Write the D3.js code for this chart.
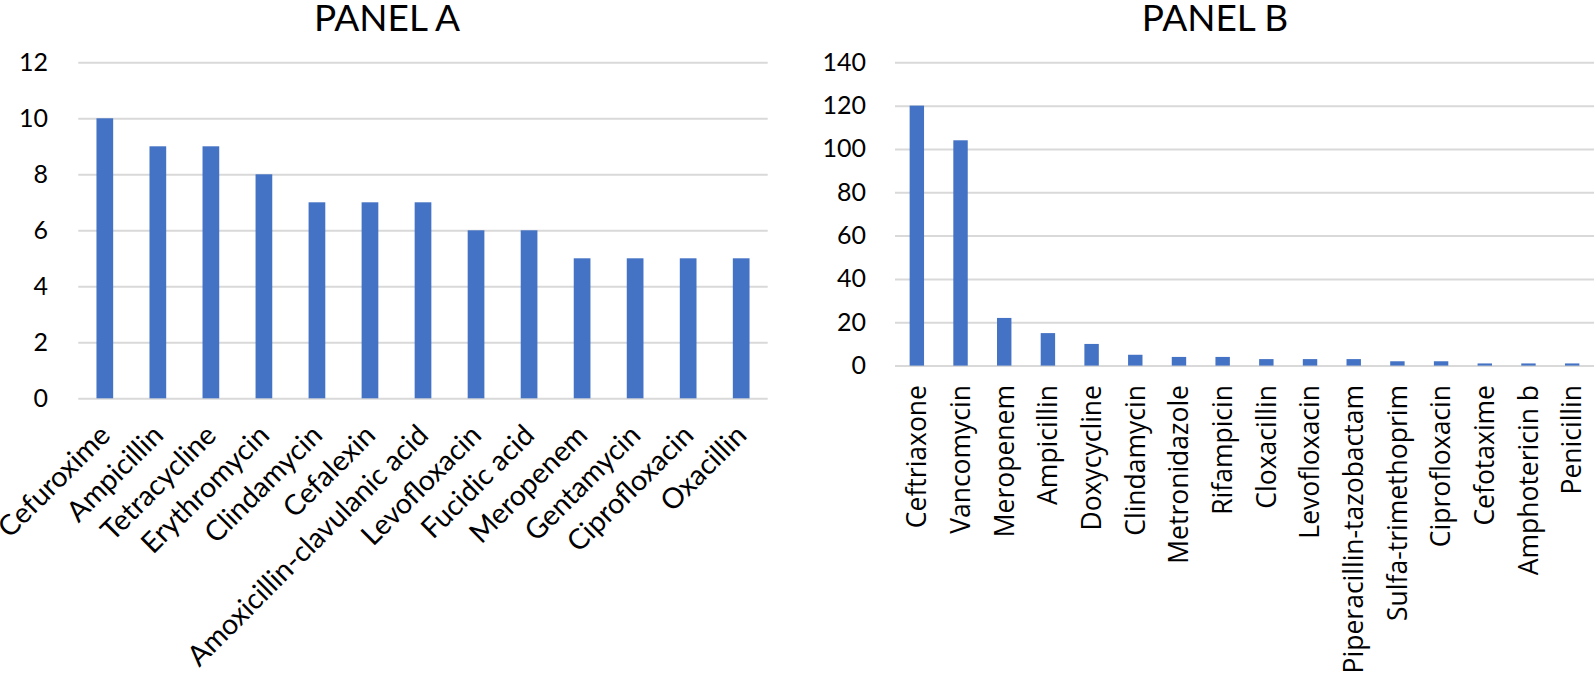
<!DOCTYPE html>
<html>
<head>
<meta charset="utf-8">
<script src="https://cdn.jsdelivr.net/npm/d3@7"></script>
<style>
  html, body { margin: 0; padding: 0; background: #fff; }
  svg { display: block; }
</style>
</head>
<body>
<svg id="chart" width="1594" height="678"></svg>
<script>
// ---- Data ----
const titleA = "PANEL A";
const categoriesA = ["Cefuroxime", "Ampicillin", "Tetracycline", "Erythromycin", "Clindamycin",
  "Cefalexin", "Amoxicillin-clavulanic acid", "Levofloxacin", "Fucidic acid", "Meropenem",
  "Gentamycin", "Ciprofloxacin", "Oxacillin"];
const valuesA = [10, 9, 9, 8, 7, 7, 7, 6, 6, 5, 5, 5, 5];
const ticksA = [0, 2, 4, 6, 8, 10, 12];

const titleB = "PANEL B";
const categoriesB = ["Ceftriaxone", "Vancomycin", "Meropenem", "Ampicillin", "Doxycycline",
  "Clindamycin", "Metronidazole", "Rifampicin", "Cloxacillin", "Levofloxacin",
  "Piperacillin-tazobactam", "Sulfa-trimethoprim", "Ciprofloxacin", "Cefotaxime",
  "Amphotericin b", "Penicillin"];
const valuesB = [120, 104, 22, 15, 10, 5, 4, 4, 3, 3, 3, 2, 2, 1, 1, 1];
const ticksB = [0, 20, 40, 60, 80, 100, 120, 140];

// ---- Style ----
const barColor = "#4472c4";
const gridColor = "#d9d9d9";
const fontA = "Lato, 'Open Sans', sans-serif";
const fontB = "'Open Sans', 'Noto Sans', sans-serif";

const svg = d3.select("#chart");

function panel(cfg) {
  const g = svg.append("g");
  const x = d3.scaleBand().domain(cfg.categories).range(cfg.xRange)
    .paddingInner(cfg.pad).paddingOuter(cfg.pad / 2);
  const y = d3.scaleLinear().domain([0, d3.max(cfg.ticks)]).range(cfg.yRange);

  // gridlines via axis
  const grid = g.append("g").attr("transform", `translate(${cfg.xRange[0]},0)`)
    .call(d3.axisLeft(y).tickValues(cfg.ticks).tickSize(-(cfg.xRange[1] - cfg.xRange[0])).tickFormat(""));
  grid.select(".domain").remove();
  grid.selectAll("line").attr("stroke", gridColor).attr("stroke-width", 2);

  // y tick labels
  const yAx = g.append("g").attr("transform", `translate(${cfg.yLabelX},0)`)
    .call(d3.axisLeft(y).tickValues(cfg.ticks).tickSize(0).tickPadding(0).tickFormat(d3.format("d")));
  yAx.select(".domain").remove();
  yAx.selectAll("text").attr("font-family", fontA).attr("font-size", cfg.yFont).attr("fill", "#000");

  // bars
  g.append("g").selectAll("rect").data(cfg.values).join("rect")
    .attr("x", (d, i) => x(cfg.categories[i]))
    .attr("width", x.bandwidth())
    .attr("y", d => y(d))
    .attr("height", d => y(0) - y(d))
    .attr("fill", barColor);

  // x labels
  const xAx = g.append("g").attr("transform", `translate(0,${cfg.xLabelY})`)
    .call(d3.axisBottom(x).tickSize(0).tickPadding(0));
  xAx.select(".domain").remove();
  xAx.selectAll("text")
    .attr("font-family", cfg.xFontFamily).attr("font-size", cfg.xFont).attr("fill", "#000")
    .attr("text-anchor", "end")
    .attr("y", 0).attr("x", 0).attr("dy", "0.35em")
    .attr("transform", `rotate(${cfg.rot})`);

  // title
  g.append("text").attr("x", cfg.titleX).attr("y", 31)
    .attr("text-anchor", "middle").attr("font-family", fontA)
    .attr("font-size", 37).attr("fill", "#000").text(cfg.title);
}

panel({
  categories: categoriesA, values: valuesA, ticks: ticksA, title: titleA,
  xRange: [78.3, 767.7], yRange: [398.3, 62.3], pad: 0.685,
  yLabelX: 48, yFont: 25, xLabelY: 430, xFont: 28.5, xFontFamily: fontA, rot: -45,
  titleX: 387
});

panel({
  categories: categoriesB, values: valuesB, ticks: ticksB, title: titleB,
  xRange: [895, 1594], yRange: [365.6, 62.3], pad: 0.67,
  yLabelX: 866, yFont: 25, xLabelY: 385, xFont: 26.5, xFontFamily: fontB, rot: -90,
  titleX: 1215
});
</script>
</body>
</html>
